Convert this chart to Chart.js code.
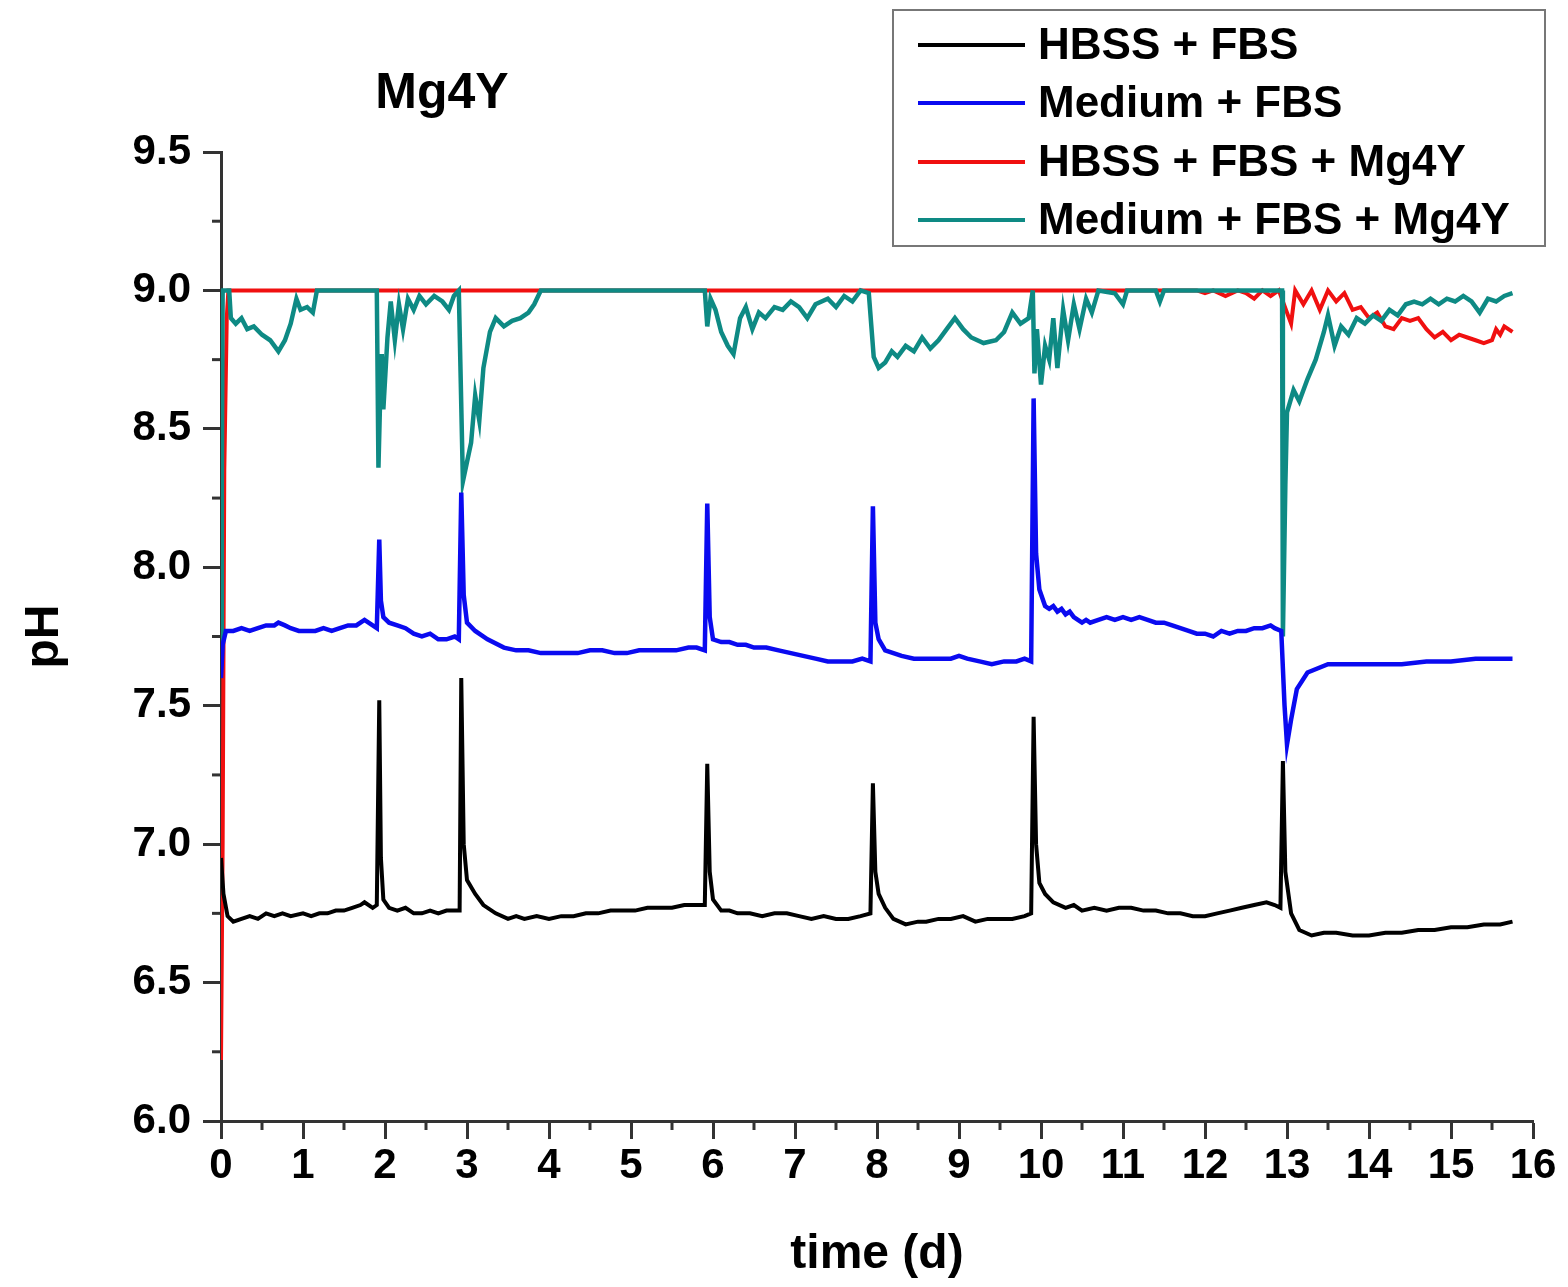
<!DOCTYPE html>
<html>
<head>
    <meta charset="UTF-8">
    <title>Mg4Y pH</title>
    <script src="https://cdn.jsdelivr.net/npm/chart.js"></script>
    <style>
        body { margin: 0; background: #fff; }
    </style>
</head>
<body>
    <canvas id="myChart" width="1568" height="1287"></canvas>

    <script>
        // series labels and colours
        const seriesNames = ['HBSS + FBS', 'Medium + FBS', 'HBSS + FBS + Mg4Y', 'Medium + FBS + Mg4Y'];
        const seriesColors = ['#000000', '#0a0af0', '#f01010', '#0e8a84'];

        // [time (d), pH]
        const hbssFbs = [
            [0, 6.95], [0.03, 6.82], [0.08, 6.74], [0.15, 6.72], [0.25, 6.73], [0.35, 6.74], [0.45, 6.73],
            [0.55, 6.75], [0.65, 6.74], [0.75, 6.75], [0.85, 6.74], [1.0, 6.75], [1.1, 6.74], [1.2, 6.75],
            [1.3, 6.75], [1.4, 6.76], [1.5, 6.76], [1.6, 6.77], [1.7, 6.78], [1.75, 6.79], [1.85, 6.77],
            [1.9, 6.78], [1.93, 7.52], [1.95, 6.95], [1.98, 6.80], [2.05, 6.77], [2.15, 6.76], [2.25, 6.77],
            [2.35, 6.75], [2.45, 6.75], [2.55, 6.76], [2.65, 6.75], [2.75, 6.76], [2.85, 6.76], [2.91, 6.76],
            [2.93, 7.6], [2.96, 7.0], [3.0, 6.87], [3.1, 6.82], [3.2, 6.78], [3.35, 6.75], [3.5, 6.73],
            [3.6, 6.74], [3.7, 6.73], [3.85, 6.74], [4.0, 6.73], [4.15, 6.74], [4.3, 6.74], [4.45, 6.75],
            [4.6, 6.75], [4.75, 6.76], [4.9, 6.76], [5.05, 6.76], [5.2, 6.77], [5.35, 6.77], [5.5, 6.77],
            [5.65, 6.78], [5.8, 6.78], [5.9, 6.78], [5.93, 7.29], [5.96, 6.9], [6.0, 6.8], [6.1, 6.76],
            [6.2, 6.76], [6.3, 6.75], [6.45, 6.75], [6.6, 6.74], [6.75, 6.75], [6.9, 6.75], [7.05, 6.74],
            [7.2, 6.73], [7.35, 6.74], [7.5, 6.73], [7.65, 6.73], [7.8, 6.74], [7.92, 6.75], [7.95, 7.22],
            [7.98, 6.9], [8.02, 6.82], [8.1, 6.77], [8.2, 6.73], [8.35, 6.71], [8.5, 6.72], [8.6, 6.72],
            [8.75, 6.73], [8.9, 6.73], [9.05, 6.74], [9.2, 6.72], [9.35, 6.73], [9.5, 6.73], [9.65, 6.73],
            [9.8, 6.74], [9.88, 6.75], [9.91, 7.46], [9.94, 7.0], [9.98, 6.86], [10.05, 6.82], [10.15, 6.79],
            [10.3, 6.77], [10.4, 6.78], [10.5, 6.76], [10.65, 6.77], [10.8, 6.76], [10.95, 6.77], [11.1, 6.77],
            [11.25, 6.76], [11.4, 6.76], [11.55, 6.75], [11.7, 6.75], [11.85, 6.74], [12.0, 6.74], [12.15, 6.75],
            [12.3, 6.76], [12.45, 6.77], [12.6, 6.78], [12.75, 6.79], [12.85, 6.78], [12.92, 6.77], [12.95, 7.3],
            [12.98, 6.9], [13.05, 6.75], [13.15, 6.69], [13.3, 6.67], [13.45, 6.68], [13.6, 6.68], [13.8, 6.67],
            [14.0, 6.67], [14.2, 6.68], [14.4, 6.68], [14.6, 6.69], [14.8, 6.69], [15.0, 6.70], [15.2, 6.70],
            [15.4, 6.71], [15.6, 6.71], [15.75, 6.72]
        ];

        const mediumFbs = [
            [0, 7.6], [0.02, 7.72], [0.06, 7.77], [0.15, 7.77], [0.25, 7.78], [0.35, 7.77], [0.45, 7.78],
            [0.55, 7.79], [0.65, 7.79], [0.7, 7.8], [0.78, 7.79], [0.85, 7.78], [0.95, 7.77], [1.05, 7.77],
            [1.15, 7.77], [1.25, 7.78], [1.35, 7.77], [1.45, 7.78], [1.55, 7.79], [1.65, 7.79], [1.75, 7.81],
            [1.85, 7.79], [1.9, 7.78], [1.93, 8.1], [1.95, 7.88], [1.98, 7.82], [2.05, 7.8], [2.15, 7.79],
            [2.25, 7.78], [2.35, 7.76], [2.45, 7.75], [2.55, 7.76], [2.65, 7.74], [2.75, 7.74], [2.85, 7.75],
            [2.9, 7.74], [2.93, 8.27], [2.96, 7.9], [3.0, 7.8], [3.1, 7.77], [3.25, 7.74], [3.45, 7.71],
            [3.6, 7.7], [3.75, 7.7], [3.9, 7.69], [4.05, 7.69], [4.2, 7.69], [4.35, 7.69], [4.5, 7.7],
            [4.65, 7.7], [4.8, 7.69], [4.95, 7.69], [5.1, 7.7], [5.25, 7.7], [5.4, 7.7], [5.55, 7.7],
            [5.7, 7.71], [5.8, 7.71], [5.9, 7.7], [5.93, 8.23], [5.96, 7.82], [6.0, 7.74], [6.1, 7.73],
            [6.2, 7.73], [6.3, 7.72], [6.4, 7.72], [6.5, 7.71], [6.65, 7.71], [6.8, 7.7], [6.95, 7.69],
            [7.1, 7.68], [7.25, 7.67], [7.4, 7.66], [7.55, 7.66], [7.7, 7.66], [7.82, 7.67], [7.92, 7.66],
            [7.95, 8.22], [7.98, 7.8], [8.02, 7.74], [8.1, 7.7], [8.2, 7.69], [8.3, 7.68], [8.45, 7.67],
            [8.6, 7.67], [8.75, 7.67], [8.9, 7.67], [9.0, 7.68], [9.1, 7.67], [9.25, 7.66], [9.4, 7.65],
            [9.55, 7.66], [9.7, 7.66], [9.8, 7.67], [9.88, 7.66], [9.91, 8.61], [9.94, 8.05], [9.98, 7.92],
            [10.05, 7.86], [10.1, 7.85], [10.15, 7.86], [10.2, 7.84], [10.25, 7.85], [10.3, 7.83], [10.35, 7.84],
            [10.4, 7.82], [10.45, 7.81], [10.5, 7.8], [10.55, 7.81], [10.6, 7.8], [10.7, 7.81], [10.8, 7.82],
            [10.9, 7.81], [11.0, 7.82], [11.1, 7.81], [11.2, 7.82], [11.3, 7.81], [11.4, 7.8], [11.5, 7.8],
            [11.6, 7.79], [11.7, 7.78], [11.8, 7.77], [11.9, 7.76], [12.0, 7.76], [12.1, 7.75], [12.2, 7.77],
            [12.3, 7.76], [12.4, 7.77], [12.5, 7.77], [12.6, 7.78], [12.7, 7.78], [12.8, 7.79], [12.85, 7.78],
            [12.93, 7.77], [12.97, 7.5], [13.0, 7.36], [13.05, 7.45], [13.12, 7.56], [13.25, 7.62], [13.5, 7.65],
            [13.8, 7.65], [14.1, 7.65], [14.4, 7.65], [14.7, 7.66], [15.0, 7.66], [15.3, 7.67], [15.6, 7.67],
            [15.75, 7.67]
        ];

        const hbssFbsMg4Y = [
            [0, 6.22], [0.02, 7.0], [0.04, 8.35], [0.07, 8.9], [0.09, 9.0], [11.9, 9.0], [12.0, 8.99],
            [12.1, 9.0], [12.25, 8.98], [12.4, 9.0], [12.5, 8.99], [12.6, 8.97], [12.7, 9.0], [12.8, 8.98],
            [12.9, 9.0], [13.0, 8.92], [13.05, 8.88], [13.1, 9.0], [13.2, 8.95], [13.3, 9.0], [13.4, 8.93],
            [13.5, 9.0], [13.6, 8.96], [13.7, 8.99], [13.8, 8.93], [13.9, 8.94], [14.0, 8.9], [14.1, 8.92],
            [14.2, 8.87], [14.3, 8.86], [14.4, 8.9], [14.5, 8.89], [14.6, 8.9], [14.7, 8.86], [14.8, 8.83],
            [14.9, 8.85], [15.0, 8.82], [15.1, 8.84], [15.2, 8.83], [15.3, 8.82], [15.4, 8.81], [15.5, 8.82],
            [15.55, 8.86], [15.6, 8.84], [15.65, 8.87], [15.75, 8.85]
        ];

        const mediumFbsMg4Y = [
            [0, 7.7], [0.01, 8.3], [0.02, 9.0], [0.1, 9.0], [0.12, 8.9], [0.18, 8.88], [0.25, 8.9],
            [0.32, 8.86], [0.4, 8.87], [0.5, 8.84], [0.6, 8.82], [0.7, 8.78], [0.78, 8.82], [0.85, 8.88],
            [0.92, 8.97], [0.97, 8.93], [1.05, 8.94], [1.12, 8.92], [1.17, 9.0], [1.9, 9.0], [1.92, 8.36],
            [1.94, 8.6], [1.96, 8.77], [1.98, 8.57], [2.03, 8.83], [2.07, 8.96], [2.12, 8.82], [2.17, 8.95],
            [2.22, 8.86], [2.28, 8.97], [2.35, 8.93], [2.42, 8.98], [2.5, 8.95], [2.6, 8.98], [2.7, 8.96],
            [2.78, 8.93], [2.84, 8.98], [2.9, 9.0], [2.95, 8.31], [3.0, 8.38], [3.05, 8.45], [3.1, 8.62],
            [3.15, 8.53], [3.2, 8.72], [3.28, 8.85], [3.35, 8.9], [3.45, 8.87], [3.55, 8.89], [3.65, 8.9],
            [3.75, 8.92], [3.82, 8.95], [3.9, 9.0], [5.9, 9.0], [5.93, 8.87], [5.97, 8.97], [6.03, 8.93],
            [6.1, 8.85], [6.18, 8.8], [6.25, 8.77], [6.33, 8.9], [6.4, 8.94], [6.48, 8.86], [6.56, 8.92],
            [6.64, 8.9], [6.75, 8.94], [6.85, 8.93], [6.95, 8.96], [7.05, 8.94], [7.15, 8.9], [7.25, 8.95],
            [7.4, 8.97], [7.5, 8.94], [7.6, 8.98], [7.7, 8.96], [7.8, 9.0], [7.9, 8.99], [7.96, 8.76],
            [8.02, 8.72], [8.1, 8.74], [8.18, 8.78], [8.25, 8.76], [8.35, 8.8], [8.45, 8.78], [8.55, 8.83],
            [8.65, 8.79], [8.75, 8.82], [8.85, 8.86], [8.95, 8.9], [9.05, 8.86], [9.15, 8.83], [9.3, 8.81],
            [9.45, 8.82], [9.55, 8.85], [9.65, 8.92], [9.75, 8.88], [9.85, 8.9], [9.9, 9.0], [9.92, 8.7],
            [9.95, 8.86], [10.0, 8.66], [10.05, 8.8], [10.1, 8.75], [10.15, 8.9], [10.2, 8.72], [10.27, 8.93],
            [10.33, 8.82], [10.4, 8.95], [10.47, 8.86], [10.55, 8.97], [10.62, 8.92], [10.7, 9.0], [10.9, 8.99],
            [11.0, 8.95], [11.05, 9.0], [11.4, 9.0], [11.45, 8.96], [11.5, 9.0], [12.94, 9.0], [12.95, 7.75],
            [12.98, 8.3], [13.0, 8.56], [13.08, 8.64], [13.15, 8.6], [13.25, 8.68], [13.35, 8.75], [13.45, 8.85],
            [13.5, 8.91], [13.58, 8.8], [13.66, 8.87], [13.75, 8.84], [13.85, 8.9], [13.95, 8.88], [14.05, 8.91],
            [14.15, 8.89], [14.25, 8.93], [14.35, 8.91], [14.45, 8.95], [14.55, 8.96], [14.65, 8.95], [14.75, 8.97],
            [14.85, 8.95], [14.95, 8.97], [15.05, 8.96], [15.15, 8.98], [15.25, 8.96], [15.35, 8.92], [15.45, 8.97],
            [15.55, 8.96], [15.65, 8.98], [15.75, 8.99]
        ];

        const allSeries = [hbssFbs, mediumFbs, hbssFbsMg4Y, mediumFbsMg4Y];
        const lineWidths = [4, 4.5, 4, 4.5];
        const drawOrder = [0, 0, 1, 0]; // teal sits over red

        const FONT = 'Liberation Sans, Arial, sans-serif';
        Chart.defaults.font.family = FONT;
        Chart.defaults.color = '#000';

        // minor ticks, title and boxed legend
        const extras = {
            id: 'extras',
            afterDraw(chart) {
                const ctx = chart.ctx;
                const xs = chart.scales.x, ys = chart.scales.y;
                ctx.save();
                ctx.strokeStyle = '#333';
                ctx.lineWidth = 3;
                for (let v = 6.25; v < 9.5; v += 0.5) {
                    const py = ys.getPixelForValue(v);
                    ctx.beginPath();
                    ctx.moveTo(ys.right - 9, py);
                    ctx.lineTo(ys.right, py);
                    ctx.stroke();
                }
                for (let v = 0.5; v < 16; v += 1) {
                    const px = xs.getPixelForValue(v);
                    ctx.beginPath();
                    ctx.moveTo(px, xs.top);
                    ctx.lineTo(px, xs.top + 9);
                    ctx.stroke();
                }

                // panel title
                ctx.fillStyle = '#000';
                ctx.font = 'bold 50px ' + FONT;
                ctx.textAlign = 'center';
                ctx.textBaseline = 'alphabetic';
                ctx.fillText('Mg4Y', 442, 108);

                // legend box
                ctx.strokeStyle = '#777';
                ctx.lineWidth = 2;
                ctx.strokeRect(893, 10, 652, 236);
                ctx.font = 'bold 44px ' + FONT;
                ctx.textAlign = 'left';
                ctx.textBaseline = 'middle';
                const rows = [45, 103, 162, 220];
                chart.data.datasets.forEach((ds, i) => {
                    ctx.strokeStyle = ds.borderColor;
                    ctx.lineWidth = 4;
                    ctx.beginPath();
                    ctx.moveTo(918, rows[i]);
                    ctx.lineTo(1025, rows[i]);
                    ctx.stroke();
                    ctx.fillStyle = '#000';
                    ctx.fillText(ds.label, 1038, rows[i] + 2);
                });
                ctx.restore();
            }
        };

        const ctx = document.getElementById('myChart').getContext('2d');
        new Chart(ctx, {
            type: 'line',
            data: {
                datasets: allSeries.map((s, i) => ({
                    label: seriesNames[i],
                    data: s.map(p => ({ x: p[0], y: p[1] })),
                    borderColor: seriesColors[i],
                    borderWidth: lineWidths[i],
                    pointRadius: 0,
                    tension: 0,
                    order: drawOrder[i]
                }))
            },
            options: {
                responsive: false,
                animation: false,
                layout: { padding: { top: 152, right: 35, left: 0, bottom: 0 } },
                plugins: {
                    legend: { display: false },
                    title: { display: false },
                    tooltip: { enabled: false }
                },
                scales: {
                    x: {
                        type: 'linear',
                        min: 0,
                        max: 16,
                        afterFit: s => { s.height = 166; },
                        ticks: {
                            stepSize: 1,
                            padding: 2,
                            font: { size: 42, weight: 'bold' },
                            maxRotation: 0,
                            autoSkip: false
                        },
                        grid: { drawOnChartArea: false, tickLength: 18, tickWidth: 3, tickColor: '#333' },
                        border: { display: true, color: '#333', width: 3 },
                        title: {
                            display: true,
                            text: 'time (d)',
                            font: { size: 48, weight: 'bold' },
                            padding: { top: 0, bottom: 3 }
                        }
                    },
                    y: {
                        min: 6,
                        max: 9.5,
                        afterFit: s => { s.width = 221; },
                        ticks: {
                            stepSize: 0.5,
                            padding: 12,
                            font: { size: 42, weight: 'bold' },
                            callback: v => v.toFixed(1)
                        },
                        grid: { drawOnChartArea: false, tickLength: 18, tickWidth: 3, tickColor: '#333' },
                        border: { display: true, color: '#333', width: 3 },
                        title: {
                            display: true,
                            text: 'pH',
                            font: { size: 48, weight: 'bold' },
                            padding: { top: 16, bottom: 0 }
                        }
                    }
                }
            },
            plugins: [extras]
        });
    </script>
</body>
</html>
